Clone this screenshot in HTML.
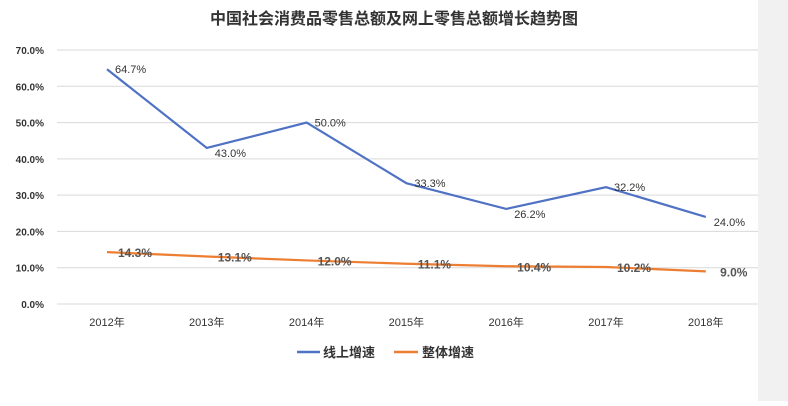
<!DOCTYPE html>
<html><head><meta charset="utf-8"><style>
body{margin:0;width:788px;height:401px;overflow:hidden;background:#fff;font-family:"Liberation Sans","Noto Sans CJK SC",sans-serif}
</style></head><body>
<svg width="788" height="401" xmlns="http://www.w3.org/2000/svg">
<rect x="758" y="0" width="30" height="401" fill="#f1f1f1"/>
<text x="394" y="24" text-anchor="middle" font-size="16" font-weight="bold" fill="#333" font-family="Noto Sans CJK SC,sans-serif">中国社会消费品零售总额及网上零售总额增长趋势图</text>
<g id="grid"></g><g id="yl"></g><g id="xl"></g><g id="lines"></g>
<g>
<line x1="297" y1="352" x2="320" y2="352" stroke="#4f72c4" stroke-width="2.5"/>
<text x="323" y="357" font-size="13" font-weight="bold" fill="#333">线上增速</text>
<line x1="394" y1="352" x2="418" y2="352" stroke="#ed7d31" stroke-width="2.5"/>
<text x="422" y="357" font-size="13" font-weight="bold" fill="#333">整体增速</text>
</g>
</svg>
<script>
const categories=["2012年","2013年","2014年","2015年","2016年","2017年","2018年"];
const onlineValues=[64.7,43.0,50.0,33.3,26.2,32.2,24.0];
const totalValues=[14.3,13.1,12.0,11.1,10.4,10.2,9.0];
const yTicks=[0,10,20,30,40,50,60,70];
const NS="http://www.w3.org/2000/svg";
const y=v=>304-v*(254/70);
const x=i=>107+i*99.8;
function mk(tag,attrs,parent,txt){const e=document.createElementNS(NS,tag);for(const k in attrs)e.setAttribute(k,attrs[k]);if(txt!==undefined)e.textContent=txt;document.getElementById(parent).appendChild(e);return e;}
yTicks.forEach(t=>{
 const l=mk('line',{x1:57,x2:758,y1:y(t),y2:y(t),stroke:'#d9d9d9','stroke-width':1},'grid');
 
 
 const tx=mk('text',{x:44,y:y(t)+4,'text-anchor':'end','font-size':10,'font-weight':'bold',fill:'#333'},'yl',t.toFixed(1)+'%');
 
 
});
categories.forEach((c,i)=>{
 const tx=mk('text',{x:x(i),y:326,'text-anchor':'middle','font-size':11,fill:'#333'},'xl',c);
 
 
});
function series(vals,color,name,labelFn){
 const p=mk('polyline',{points:vals.map((v,i)=>x(i)+','+y(v)).join(' '),fill:'none',stroke:color,'stroke-width':2.2},'lines');
 
 
 vals.forEach((v,i)=>{const t=labelFn(v,i);
 });
}
series(onlineValues,'#4f72c4','online',(v,i)=>mk('text',{x:x(i)+8,y:y(v)+([0,2,3,5].includes(i)?4:9),'font-size':11,fill:'#333'},'lines',v.toFixed(1)+'%'));
series(totalValues,'#ed7d31','total',(v,i)=>mk('text',{x:x(i)+28,y:y(v)+5,'text-anchor':'middle','font-size':12,'font-weight':'bold',fill:'#555'},'lines',v.toFixed(1)+'%'));
</script>
</body></html>
